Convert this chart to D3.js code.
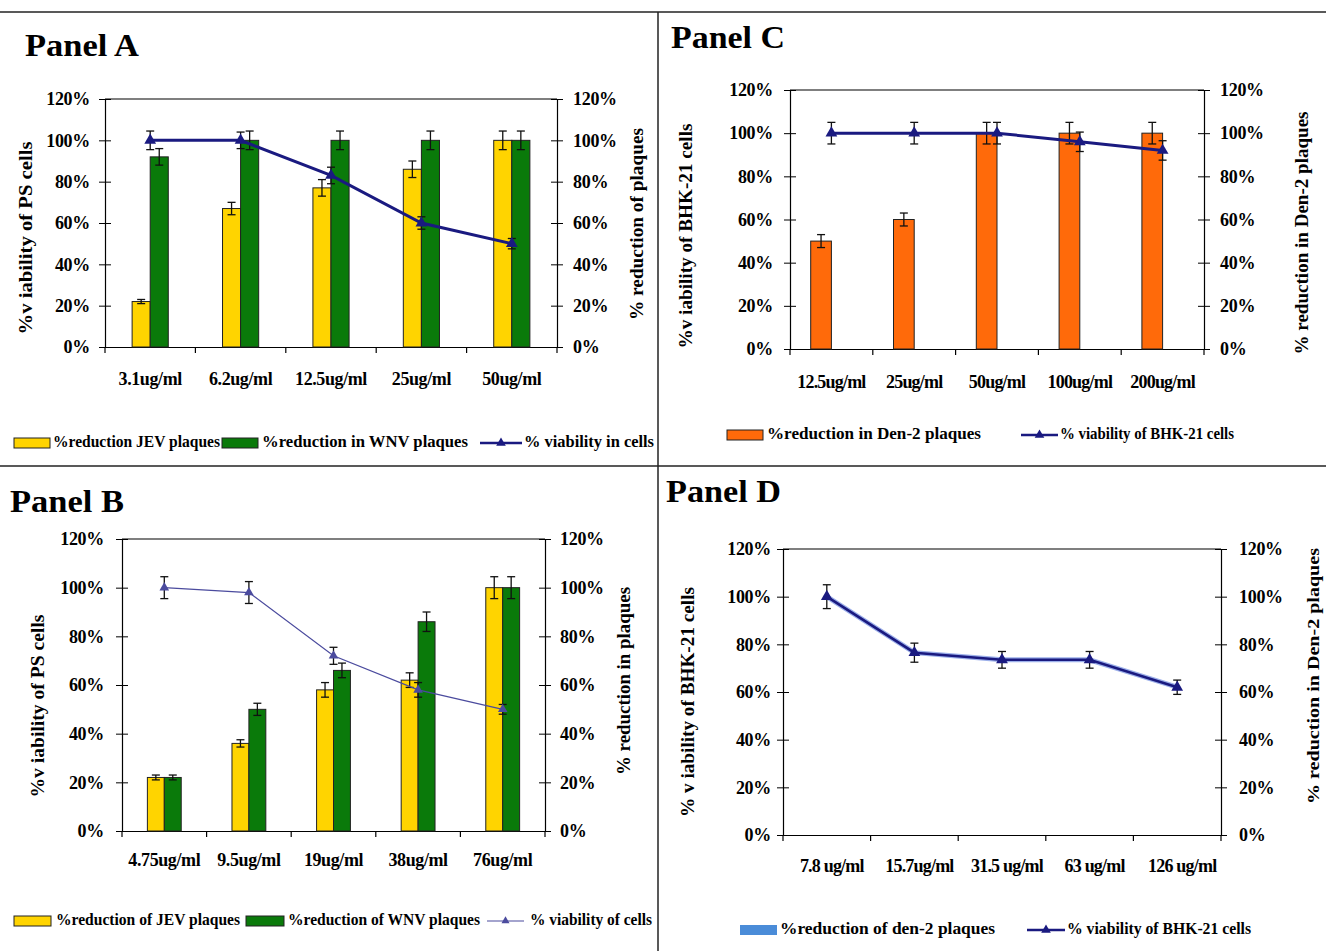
<!DOCTYPE html>
<html>
<head>
<meta charset="utf-8">
<script src="https://cdn.jsdelivr.net/npm/d3@7"></script>
<style>
  html, body { margin: 0; padding: 0; background: #fff; }
  svg text { font-family: "Liberation Serif", "Times New Roman", serif; font-weight: bold; fill: #000; }
</style>
</head>
<body>
<svg id="chart" width="1326" height="951"></svg>
<script>
// ---------------- DATA ----------------
const yTickValues = [0, 20, 40, 60, 80, 100, 120];
const yTickLabels = ["0%", "20%", "40%", "60%", "80%", "100%", "120%"];

// Panel A
const panelACategories = ["3.1ug/ml", "6.2ug/ml", "12.5ug/ml", "25ug/ml", "50ug/ml"];
const panelAJev = [22, 67, 77, 86, 100];
const panelAJevErr = [1, 3, 4, 4, 4.5];
const panelAWnv = [92, 100, 100, 100, 100];
const panelAWnvErr = [4, 4.5, 4.5, 4.5, 4.5];
const panelAViability = [100, 100, 83, 60, 50];
const panelAViabilityErr = [4.5, 4, 4, 3, 2.5];

// Panel B
const panelBCategories = ["4.75ug/ml", "9.5ug/ml", "19ug/ml", "38ug/ml", "76ug/ml"];
const panelBJev = [22, 36, 58, 62, 100];
const panelBJevErr = [1, 1.5, 3, 3, 4.5];
const panelBWnv = [22, 50, 66, 86, 100];
const panelBWnvErr = [1, 2.5, 3, 4, 4.5];
const panelBViability = [100, 98, 72, 58, 50];
const panelBViabilityErr = [4.5, 4.5, 3.5, 3, 2];

// Panel C
const panelCCategories = ["12.5ug/ml", "25ug/ml", "50ug/ml", "100ug/ml", "200ug/ml"];
const panelCDen2 = [50, 60, 100, 100, 100];
const panelCDen2Err = [3, 3, 5, 5, 5];
const panelCViability = [100, 100, 100, 96, 92];
const panelCViabilityErr = [5, 5, 5, 4.5, 4.5];

// Panel D
const panelDCategories = ["7.8 ug/ml", "15.7ug/ml", "31.5 ug/ml", "63 ug/ml", "126 ug/ml"];
const panelDViability = [100, 76.5, 73.5, 73.5, 62];
const panelDViabilityErr = [5, 4, 3.5, 3.5, 3];

// ---------------- STYLE / LAYOUT ----------------
const COLORS = { yellow: "#FFD400", green: "#0A7A0A", orange: "#FF6A0A", blue: "#4A8CD8", navy: "#1A1A80", navyLight: "#4B4B9E" };

const svg = d3.select("#chart");

// frame lines
svg.append("line").attr("x1", 0).attr("x2", 1326).attr("y1", 12).attr("y2", 12).attr("stroke", "#222").attr("stroke-width", 1.5);
svg.append("line").attr("x1", 0).attr("x2", 1326).attr("y1", 466).attr("y2", 466).attr("stroke", "#222").attr("stroke-width", 1.5);
svg.append("line").attr("x1", 658).attr("x2", 658).attr("y1", 12).attr("y2", 951).attr("stroke", "#222").attr("stroke-width", 1.5);

function drawPanel(cfg) {
  const g = svg.append("g");
  const x = d3.scaleBand().domain(cfg.categories).range([cfg.left, cfg.right]).padding(0);
  const y = d3.scaleLinear().domain([0, 120]).range([cfg.bottom, cfg.top]);

  // title
  g.append("text").attr("x", cfg.title.x).attr("y", cfg.title.y)
    .attr("font-size", 31).attr("textLength", cfg.title.len).attr("lengthAdjust", "spacingAndGlyphs")
    .text(cfg.title.text);

  // frame (top line)
  g.append("line").attr("x1", cfg.left).attr("x2", cfg.right).attr("y1", cfg.top).attr("y2", cfg.top)
    .attr("stroke", "#000").attr("stroke-width", 1.2);

  // left axis
  const axL = g.append("g").attr("transform", `translate(${cfg.left},0)`)
    .call(d3.axisLeft(y).tickValues(yTickValues).tickFormat((d, i) => yTickLabels[i]).tickSizeOuter(0).tickSizeInner(6));
  axL.select(".domain").attr("stroke", "#000").attr("stroke-width", 1.2);
  axL.selectAll(".tick line").attr("x1", 6).attr("stroke", "#000");
  axL.selectAll(".tick text").attr("x", -cfg.lGap).attr("font-size", 18).attr("font-family", "Liberation Serif").attr("font-weight", "bold").attr("letter-spacing", "-0.3");

  // right axis
  const axR = g.append("g").attr("transform", `translate(${cfg.right},0)`)
    .call(d3.axisRight(y).tickValues(yTickValues).tickFormat((d, i) => yTickLabels[i]).tickSizeOuter(0).tickSizeInner(6));
  axR.select(".domain").attr("stroke", "#000").attr("stroke-width", 1.2);
  axR.selectAll(".tick line").attr("x1", -6).attr("stroke", "#000");
  axR.selectAll(".tick text").attr("x", cfg.rGap).attr("font-size", 18).attr("font-family", "Liberation Serif").attr("font-weight", "bold").attr("letter-spacing", "-0.3");

  // bottom axis with labels
  const axB = g.append("g").attr("transform", `translate(0,${cfg.bottom})`)
    .call(d3.axisBottom(x).tickSize(0).tickSizeOuter(0));
  axB.select(".domain").attr("stroke", "#000").attr("stroke-width", 1.2);
  axB.selectAll(".tick text").attr("y", cfg.xLabelDy).attr("dx", cfg.xLabelDx || 0)
    .attr("font-size", 18).attr("font-family", "Liberation Serif").attr("font-weight", "bold").attr("letter-spacing", cfg.xLabelLs || "-0.4");
  // category boundary ticks
  const bounds = cfg.categories.map(c => x(c)).concat([x.range()[1]]);
  g.selectAll(null).data(bounds).enter().append("line")
    .attr("x1", d => d).attr("x2", d => d).attr("y1", cfg.bottom).attr("y2", cfg.bottom + 6)
    .attr("stroke", "#000").attr("stroke-width", 1.2);

  // bars
  const bw = x.bandwidth() * cfg.barFrac;
  cfg.bars.forEach((s, si) => {
    const offset = (si - cfg.barSlots / 2) * bw;
    const cx = c => x(c) + x.bandwidth() / 2;
    const rows = s.values.map((v, i) => ({ v, c: cfg.categories[i], e: s.err[i] }));
    g.selectAll(null).data(rows).enter()
      .append("rect")
      .attr("x", d => cx(d.c) + offset).attr("width", bw)
      .attr("y", d => y(d.v)).attr("height", d => y(0) - y(d.v))
      .attr("fill", s.color).attr("stroke", "#222").attr("stroke-width", 1);
    const eb = g.selectAll(null).data(rows).enter().append("g")
      .attr("transform", d => `translate(${cx(d.c) + offset + bw / 2},0)`);
    errorBar(eb, y);
  });

  // line
  if (cfg.line) {
    const ln = cfg.line;
    const pts = ln.values.map((v, i) => ({ v, e: ln.err[i], px: x(cfg.categories[i]) + x.bandwidth() / 2 }));
    const path = d3.line().x(d => d.px).y(d => y(d.v));
    if (ln.halo) {
      g.append("path").datum(pts).attr("d", path).attr("fill", "none").attr("stroke", ln.halo).attr("stroke-width", ln.width + 2.5);
    }
    g.append("path").datum(pts).attr("d", path).attr("fill", "none").attr("stroke", ln.color).attr("stroke-width", ln.width);
    const eb = g.selectAll(null).data(pts).enter().append("g").attr("transform", d => `translate(${d.px},0)`);
    errorBar(eb, y);
    g.selectAll(null).data(pts).enter().append("path")
      .attr("d", d3.symbol(d3.symbolTriangle).size(ln.marker))
      .attr("transform", d => `translate(${d.px},${y(d.v)})`)
      .attr("fill", ln.color);
  }

  // axis titles
  g.append("text").attr("transform", `translate(${cfg.lTitle.x},${cfg.lTitle.y}) rotate(-90)`)
    .attr("text-anchor", "middle").attr("dominant-baseline", "middle")
    .attr("font-size", 18).attr("textLength", cfg.lTitle.len).attr("lengthAdjust", "spacingAndGlyphs")
    .text(cfg.lTitle.text);
  g.append("text").attr("transform", `translate(${cfg.rTitle.x},${cfg.rTitle.y}) rotate(-90)`)
    .attr("text-anchor", "middle").attr("dominant-baseline", "middle")
    .attr("font-size", cfg.rTitle.size || 18).attr("textLength", cfg.rTitle.len).attr("lengthAdjust", "spacingAndGlyphs")
    .text(cfg.rTitle.text);

  // legend
  cfg.legend.items.forEach(it => {
    const ly = cfg.legend.y;
    if (it.type === "rect") {
      g.append("rect").attr("x", it.sx).attr("y", ly - 5).attr("width", it.sw).attr("height", 10)
        .attr("fill", it.color).attr("stroke", it.noStroke ? "none" : "#222").attr("stroke-width", 1);
    } else {
      g.append("line").attr("x1", it.sx).attr("x2", it.sx + it.sw).attr("y1", ly).attr("y2", ly)
        .attr("stroke", it.color).attr("stroke-width", it.width);
      g.append("path").attr("d", d3.symbol(d3.symbolTriangle).size(it.marker))
        .attr("transform", `translate(${it.sx + it.sw / 2},${ly})`).attr("fill", it.color);
    }
    g.append("text").attr("x", it.tx).attr("y", ly).attr("dominant-baseline", "middle")
      .attr("font-size", 16).attr("textLength", it.tl).attr("lengthAdjust", "spacingAndGlyphs")
      .text(it.label);
  });
}

function errorBar(sel, y) {
  sel.append("line").attr("x1", 0).attr("x2", 0).attr("y1", d => y(d.v - d.e)).attr("y2", d => y(d.v + d.e))
    .attr("stroke", "#111").attr("stroke-width", 1.3);
  sel.append("line").attr("x1", -4).attr("x2", 4).attr("y1", d => y(d.v - d.e)).attr("y2", d => y(d.v - d.e))
    .attr("stroke", "#111").attr("stroke-width", 1.3);
  sel.append("line").attr("x1", -4).attr("x2", 4).attr("y1", d => y(d.v + d.e)).attr("y2", d => y(d.v + d.e))
    .attr("stroke", "#111").attr("stroke-width", 1.3);
}

// ---------------- PANELS ----------------
drawPanel({
  categories: panelACategories, left: 105, right: 557, top: 99, bottom: 347,
  lGap: 15, rGap: 16, xLabelDy: 25,
  title: { text: "Panel A", x: 25, y: 56, len: 114 },
  barFrac: 0.2, barSlots: 2,
  bars: [
    { values: panelAJev, err: panelAJevErr, color: COLORS.yellow },
    { values: panelAWnv, err: panelAWnvErr, color: COLORS.green }
  ],
  line: { values: panelAViability, err: panelAViabilityErr, color: COLORS.navy, width: 3, marker: 60 },
  lTitle: { text: "%v iability of PS cells", x: 28, y: 238, len: 193 },
  rTitle: { text: "% reduction of plaques", x: 639, y: 224, len: 192 },
  legend: { y: 443, items: [
    { type: "rect", sx: 14, sw: 36, color: COLORS.yellow, tx: 53, tl: 167, label: "%reduction JEV plaques" },
    { type: "rect", sx: 222, sw: 36, color: COLORS.green, tx: 262, tl: 206, label: "%reduction in WNV plaques" },
    { type: "line", sx: 480, sw: 42, color: COLORS.navy, width: 2.5, marker: 40, tx: 524, tl: 130, label: "% viability  in cells" }
  ] }
});

drawPanel({
  categories: panelBCategories, left: 122, right: 545, top: 539, bottom: 831,
  lGap: 18, rGap: 15, xLabelDy: 22,
  title: { text: "Panel B", x: 10, y: 512, len: 114 },
  barFrac: 0.2, barSlots: 2,
  bars: [
    { values: panelBJev, err: panelBJevErr, color: COLORS.yellow },
    { values: panelBWnv, err: panelBWnvErr, color: COLORS.green }
  ],
  line: { values: panelBViability, err: panelBViabilityErr, color: COLORS.navyLight, width: 1.2, marker: 40 },
  lTitle: { text: "%v iability of PS cells", x: 40, y: 706, len: 183 },
  rTitle: { text: "% reduction in plaques", x: 626, y: 681, len: 188 },
  legend: { y: 921, items: [
    { type: "rect", sx: 14, sw: 37, color: COLORS.yellow, tx: 56, tl: 184, label: "%reduction of JEV plaques" },
    { type: "rect", sx: 246, sw: 38, color: COLORS.green, tx: 288, tl: 192, label: "%reduction of WNV plaques" },
    { type: "line", sx: 487, sw: 37, color: COLORS.navyLight, width: 1.2, marker: 28, tx: 530, tl: 122, label: "% viability of cells" }
  ] }
});

drawPanel({
  categories: panelCCategories, left: 790, right: 1204, top: 90, bottom: 349,
  lGap: 17, rGap: 16, xLabelDy: 26, xLabelLs: "-0.8",
  title: { text: "Panel C", x: 671, y: 48, len: 114 },
  barFrac: 0.25, barSlots: 2,
  bars: [
    { values: panelCDen2, err: panelCDen2Err, color: COLORS.orange }
  ],
  line: { values: panelCViability, err: panelCViabilityErr, color: COLORS.navy, width: 3, marker: 60 },
  lTitle: { text: "%v iability of BHK-21 cells", x: 688, y: 236, len: 225 },
  rTitle: { text: "% reduction in Den-2 plaques", x: 1304, y: 233, len: 243 },
  legend: { y: 435, items: [
    { type: "rect", sx: 727, sw: 36, color: COLORS.orange, tx: 767, tl: 214, label: "%reduction in Den-2 plaques" },
    { type: "line", sx: 1021, sw: 37, color: COLORS.navy, width: 2.5, marker: 40, tx: 1060, tl: 174, label: "% viability  of BHK-21 cells" }
  ] }
});

drawPanel({
  categories: panelDCategories, left: 783, right: 1221, top: 549, bottom: 835,
  lGap: 12, rGap: 18, xLabelDy: 24, xLabelDx: 5, xLabelLs: "-0.8",
  title: { text: "Panel D", x: 666, y: 502, len: 115 },
  barFrac: 0.25, barSlots: 2,
  bars: [],
  line: { values: panelDViability, err: panelDViabilityErr, color: COLORS.navy, width: 2.5, marker: 60, halo: "#9DB0EA" },
  lTitle: { text: "% v iability of BHK-21 cells", x: 690, y: 702, len: 230 },
  rTitle: { text: "% reduction in Den-2  plaques", x: 1315, y: 676, len: 256, size: 17 },
  legend: { y: 930, items: [
    { type: "rect", sx: 740, sw: 37, color: COLORS.blue, noStroke: true, tx: 780, tl: 215, label: "%reduction of den-2 plaques" },
    { type: "line", sx: 1027, sw: 38, color: COLORS.navy, width: 2.5, marker: 40, tx: 1067, tl: 184, label: "% viability  of BHK-21 cells" }
  ] }
});
</script>
</body>
</html>
